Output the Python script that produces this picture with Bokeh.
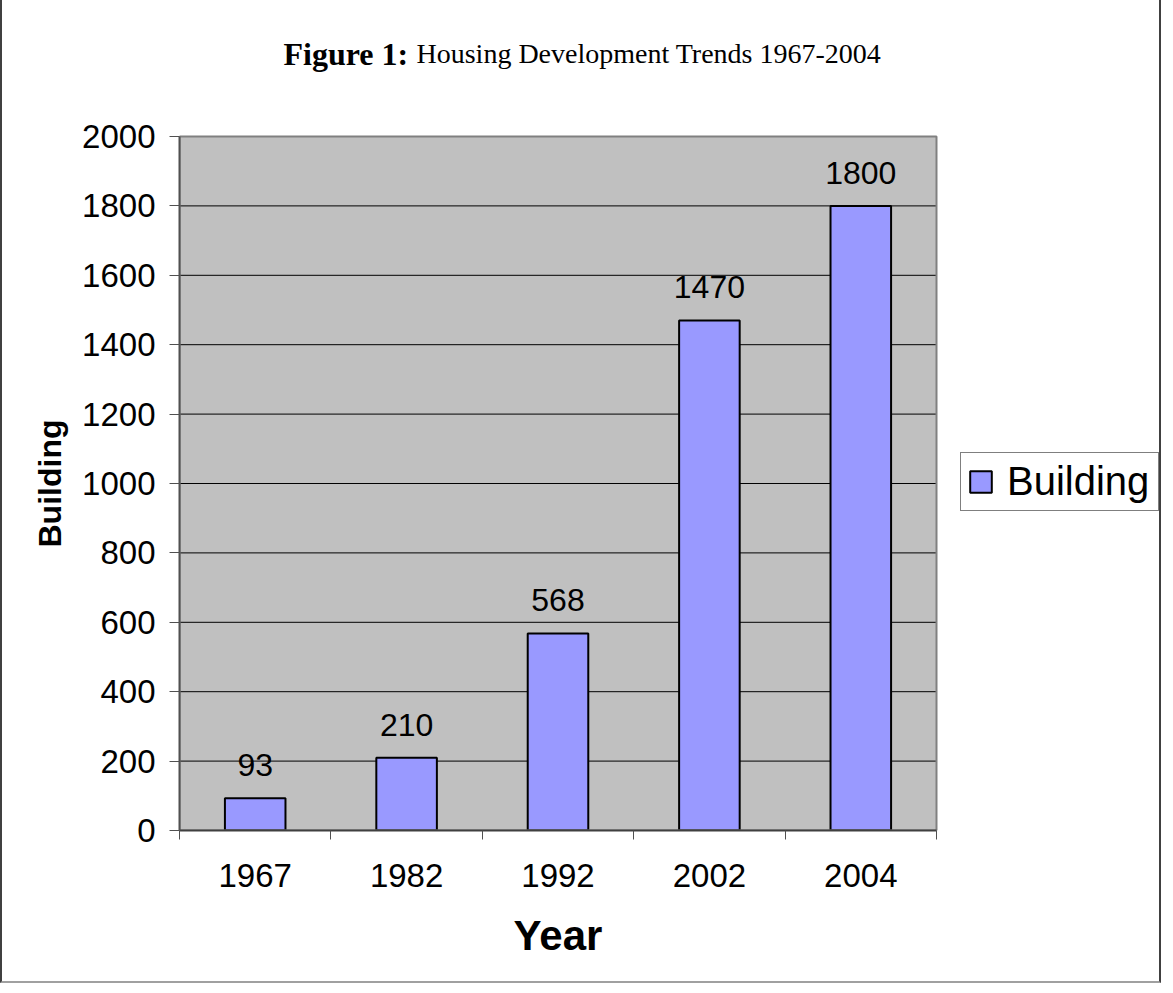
import math
from bokeh.plotting import figure
from bokeh.models import (Range1d, FixedTicker, Label, Legend, LegendItem,
                          ColumnDataSource, LinearAxis)
from bokeh.core.properties import value
from bokeh.embed import file_html
from bokeh.resources import INLINE

# ---- data ----
years = ["1967", "1982", "1992", "2002", "2004"]
buildings = [93, 210, 568, 1470, 1800]
y_ticks = [0, 200, 400, 600, 800, 1000, 1200, 1400, 1600, 1800, 2000]
series_name = "Building"
title_bold = "Figure 1:"
title_rest = "Housing Development Trends 1967-2004"
x_title = "Year"
y_title = "Building"

SANS = "Liberation Sans"
SERIF = "Liberation Serif"

# ---- layout constants (canvas px) ----
W, H = 1161, 983
FL = 177            # frame (= plot area) left edge
FB = 830            # frame (= plot area) bottom edge
YMAX = 2000
PX_X = 757 / len(years)   # px per category
PX_Y = 694 / YMAX         # px per unit

n = len(years)
xs = list(range(n))
x_start, x_stop = -0.5, n - 0.5
x_end = x_start + (W - FL) / PX_X
y_end = FB / PX_Y

src = ColumnDataSource(dict(x=xs, top=buildings, lab=[str(v) for v in buildings]))

p = figure(width=W, height=H, output_backend="svg", toolbar_location=None,
           x_range=Range1d(x_start, x_end), y_range=Range1d(0, y_end),
           min_border_left=FL, min_border_right=0,
           min_border_top=0, min_border_bottom=H - FB,
           x_axis_location=None, y_axis_location=None)
p.styles = {"border-left": "2px solid #404040", "border-right": "2px solid #404040",
            "border-bottom": "2px solid #a0a0a0"}

p.background_fill_color = "white"
p.border_fill_color = "white"
p.outline_line_color = None
p.xgrid.visible = False
p.ygrid.visible = False

# plot area background
p.quad(left=x_start, right=x_stop, bottom=0, top=YMAX,
       fill_color="#C0C0C0", line_color=None)
# horizontal gridlines
p.segment(x0=[x_start] * len(y_ticks), x1=[x_stop] * len(y_ticks),
          y0=y_ticks, y1=y_ticks, line_color="black", line_width=1)

bars = p.vbar(x="x", top="top", width=0.4, bottom=0, source=src,
              fill_color="#9999FF", line_color="black", line_width=2)

# plot area border
p.quad(left=x_start, right=x_stop, bottom=0, top=YMAX,
       fill_color=None, line_color="#808080", line_width=2)

p.text(x="x", y="top", text="lab", source=src, text_align="center",
       text_baseline="alphabetic", y_offset=-33,
       text_font=value(SANS), text_font_size="32px", text_color="black")

# ---- y axis ----
yax = LinearAxis(ticker=FixedTicker(ticks=y_ticks, minor_ticks=[]), bounds=(0, YMAX))
yax.axis_line_color = "#505050"
yax.axis_line_width = 2
yax.major_tick_line_color = "#505050"
yax.major_tick_out = 10
yax.major_tick_in = 0
yax.minor_tick_line_color = None
yax.major_label_text_font = SANS
yax.major_label_text_font_size = "33px"
yax.major_label_text_color = "black"
yax.major_label_standoff = 14
p.add_layout(yax, "left")

# y axis title, centred on the plot area
yttl = LinearAxis(ticker=FixedTicker(ticks=[YMAX / 2], minor_ticks=[]))
yttl.major_label_overrides = {YMAX // 2: y_title}
yttl.major_label_orientation = "vertical"
yttl.axis_line_color = None
yttl.major_tick_line_color = None
yttl.minor_tick_line_color = None
yttl.major_tick_out = 0
yttl.major_tick_in = 0
yttl.major_label_text_font = SANS
yttl.major_label_text_font_style = "bold"
yttl.major_label_text_font_size = "32px"
yttl.major_label_text_color = "black"
yttl.major_label_standoff = 12
p.add_layout(yttl, "left")

# ---- x axis: labels at category centres, ticks at category boundaries ----
xax = LinearAxis(ticker=FixedTicker(ticks=xs, minor_ticks=[i - 0.5 for i in range(n + 1)]),
                 bounds=(x_start, x_stop))
xax.major_label_overrides = {i: years[i] for i in xs}
xax.axis_line_color = "#404040"
xax.axis_line_width = 2
xax.major_tick_line_color = None
xax.major_tick_out = 0
xax.major_tick_in = 0
xax.minor_tick_line_color = "#505050"
xax.minor_tick_out = 9
xax.minor_tick_in = 0
xax.major_label_text_font = SANS
xax.major_label_text_font_size = "33px"
xax.major_label_text_color = "black"
xax.major_label_standoff = 24
p.add_layout(xax, "below")

# x axis title, centred on the plot area
xc = (n - 1) // 2
xttl = LinearAxis(ticker=FixedTicker(ticks=[xc], minor_ticks=[]))
xttl.major_label_overrides = {xc: x_title}
xttl.axis_line_color = None
xttl.major_tick_line_color = None
xttl.minor_tick_line_color = None
xttl.major_tick_out = 0
xttl.major_tick_in = 0
xttl.major_label_text_font = SANS
xttl.major_label_text_font_style = "bold"
xttl.major_label_text_font_size = "42px"
xttl.major_label_text_color = "black"
xttl.major_label_standoff = 22
p.add_layout(xttl, "below")

# ---- title (mixed bold / regular) ----
def dx(cx):
    return x_start + (cx - FL) / PX_X
def dy(cy):
    return (FB - cy) / PX_Y

p.add_layout(Label(x=dx(281), y=dy(53), text=title_bold, text_font=SERIF,
                   text_font_style="bold", text_font_size="32px",
                   text_baseline="alphabetic", text_align="left", text_color="black"))
p.add_layout(Label(x=dx(414), y=dy(53), text=title_rest, text_font=SERIF,
                   text_font_size="28px", text_baseline="alphabetic",
                   text_align="left", text_color="black"))

# ---- legend ----
legend = Legend(items=[LegendItem(label=series_name, renderers=[bars])],
                location=(781, 319), glyph_width=27, glyph_height=27,
                label_text_font=SANS, label_text_font_size="40px",
                label_text_color="black", label_width=145,
                label_standoff=13, padding=6, margin=0, spacing=0,
                border_line_color="black", border_line_width=1,
                background_fill_color="white", background_fill_alpha=1)
p.add_layout(legend)

open("out.html", "w").write(file_html(p, INLINE))
